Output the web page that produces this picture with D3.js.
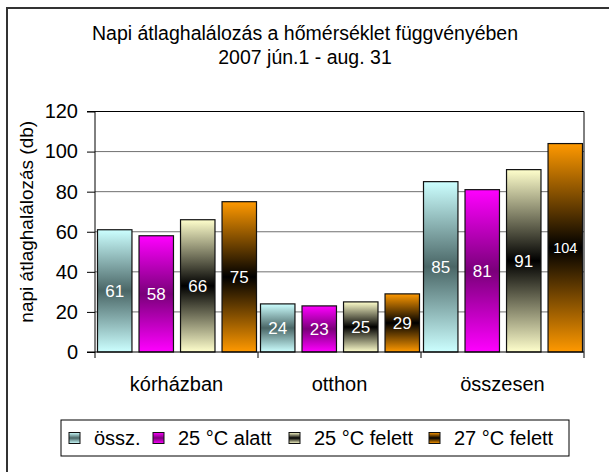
<!DOCTYPE html>
<html>
<head>
<meta charset="utf-8">
<script src="https://cdn.jsdelivr.net/npm/d3@7"></script>
<style>
  html, body { margin: 0; padding: 0; background: #fff; }
  svg { display: block; font-family: "Liberation Sans", Arial, sans-serif; }
</style>
</head>
<body>
<svg id="chart" width="609" height="472"></svg>
<script>
// ---- data ----
const categories = ["kórházban", "otthon", "összesen"];
const seriesNames = ["össz.", "25 °C alatt", "25 °C felett", "27 °C felett"];
const sOssz   = [61, 24, 85];
const sAlatt25 = [58, 23, 81];
const sFelett25 = [66, 25, 91];
const sFelett27 = [75, 29, 104];
const yTicks = [0, 20, 40, 60, 80, 100, 120];
const titleLines = ["Napi átlaghalálozás a hőmérséklet  függvényében", "2007 jún.1 - aug. 31"];
const yTitle = "napi átlaghalálozás (db)";

const seriesValues = [sOssz, sAlatt25, sFelett25, sFelett27];
const gradColors = [
  ["#ccffff", "#4a6666"],
  ["#ff00ff", "#7a007a"],
  ["#ffffcc", "#000000"],
  ["#ff9900", "#000000"]
];
const FONT = "Liberation Sans, Arial, sans-serif";

const svg = d3.select("#chart");
const defs = svg.append("defs");
seriesNames.forEach((s, i) => {
  const g = defs.append("linearGradient").attr("id", "grad" + i)
    .attr("x1", 0).attr("y1", 0).attr("x2", 0).attr("y2", 1);
  g.append("stop").attr("offset", "0%").attr("stop-color", gradColors[i][0]);
  g.append("stop").attr("offset", "50%").attr("stop-color", gradColors[i][1]);
  g.append("stop").attr("offset", "100%").attr("stop-color", gradColors[i][0]);
});

// outer frame (extends beyond the view on right and bottom)
svg.append("rect").attr("x", 7).attr("y", 8).attr("width", 620).attr("height", 480)
  .attr("fill", "none").attr("stroke", "#333").attr("stroke-width", 2);

// title
svg.append("text").attr("x", 305).attr("y", 40).attr("text-anchor", "middle")
  .attr("font-size", 19.5).attr("fill", "#000").text(titleLines[0]);
svg.append("text").attr("x", 305).attr("y", 64).attr("text-anchor", "middle")
  .attr("font-size", 19.5).attr("fill", "#000").text(titleLines[1]);

const plot = { left: 95, right: 584, top: 111.5, bottom: 352 };

const x0 = d3.scaleBand().domain(categories).range([plot.left, plot.right]).padding(0);
const x1 = d3.scaleBand().domain(seriesNames).range([2.5, x0.bandwidth() - 1.5]).paddingInner(0.17).paddingOuter(0);
const y = d3.scaleLinear().domain([0, 120]).range([plot.bottom, plot.top]);

// gridlines
svg.append("g").selectAll("line").data(yTicks.filter(t => t > 0 && t < 120)).join("line")
  .attr("x1", plot.left).attr("x2", plot.right)
  .attr("y1", d => y(d)).attr("y2", d => y(d))
  .attr("stroke", "#707070").attr("stroke-width", 1);

// plot top and right border
svg.append("path")
  .attr("d", `M${plot.left},${y(120)}H${plot.right}V${plot.bottom}`)
  .attr("fill", "none").attr("stroke", "#000").attr("stroke-width", 1);

// bars
const groups = svg.append("g").selectAll("g").data(categories).join("g")
  .attr("transform", d => `translate(${x0(d)},0)`);

groups.each(function(cat, ci) {
  const g = d3.select(this);
  const vals = seriesNames.map((s, si) => ({ s, si, v: seriesValues[si][ci] }));
  g.selectAll("rect").data(vals).join("rect")
    .attr("x", d => x1(d.s)).attr("width", x1.bandwidth())
    .attr("y", d => y(d.v)).attr("height", d => y(0) - y(d.v))
    .attr("fill", d => `url(#grad${d.si})`)
    .attr("stroke", "#111").attr("stroke-width", 1.2);
  g.selectAll("text").data(vals).join("text")
    .attr("x", d => x1(d.s) + x1.bandwidth() / 2)
    .attr("y", d => (y(d.v) + y(0)) / 2)
    .attr("dy", "0.36em")
    .attr("text-anchor", "middle")
    .attr("font-size", d => String(d.v).length > 2 ? 14.5 : 17)
    .attr("fill", "#fff")
    .text(d => d.v);
});

// y axis
const yAxis = d3.axisLeft(y).tickValues(yTicks).tickSize(8).tickPadding(9);
const ya = svg.append("g").attr("transform", `translate(${plot.left},0)`).call(yAxis);
ya.attr("font-family", FONT);
ya.select(".domain").attr("stroke", "#000").attr("d", `M-8,${y(120)}H0V${plot.bottom}H-8`);
ya.selectAll(".tick line").attr("stroke", "#000");
ya.selectAll(".tick text").attr("font-size", 20).attr("fill", "#000");

// x axis
const xa = svg.append("g").attr("transform", `translate(0,${plot.bottom})`);
xa.append("line").attr("x1", plot.left).attr("x2", plot.right).attr("y1", 0).attr("y2", 0).attr("stroke", "#000");
const bounds = categories.map(c => x0(c)).concat([plot.right]);
xa.selectAll("line.tk").data(bounds).join("line").attr("class", "tk")
  .attr("x1", d => d).attr("x2", d => d).attr("y1", 0).attr("y2", 6).attr("stroke", "#000");
xa.selectAll("text").data(categories).join("text")
  .attr("x", d => x0(d) + x0.bandwidth() / 2).attr("y", 39)
  .attr("text-anchor", "middle").attr("font-size", 20).attr("fill", "#000")
  .text(d => d);

// y title
svg.append("text").attr("transform", `translate(33,${(plot.top + plot.bottom) / 2 - 10}) rotate(-90)`)
  .attr("text-anchor", "middle").attr("font-size", 19).attr("fill", "#000").text(yTitle);

// legend
const lg = svg.append("g");
lg.append("rect").attr("x", 61).attr("y", 420).attr("width", 508).attr("height", 36)
  .attr("fill", "#fff").attr("stroke", "#000").attr("stroke-width", 1);
const legX = [69, 153, 289, 429];
seriesNames.forEach((s, i) => {
  lg.append("rect").attr("x", legX[i]).attr("y", 432.5).attr("width", 11).attr("height", 11)
    .attr("fill", `url(#grad${i})`).attr("stroke", "#111").attr("stroke-width", 1);
  lg.append("text").attr("x", legX[i] + 25).attr("y", 445).attr("font-size", 20)
    .attr("fill", "#000").text(s);
});
</script>
</body>
</html>
